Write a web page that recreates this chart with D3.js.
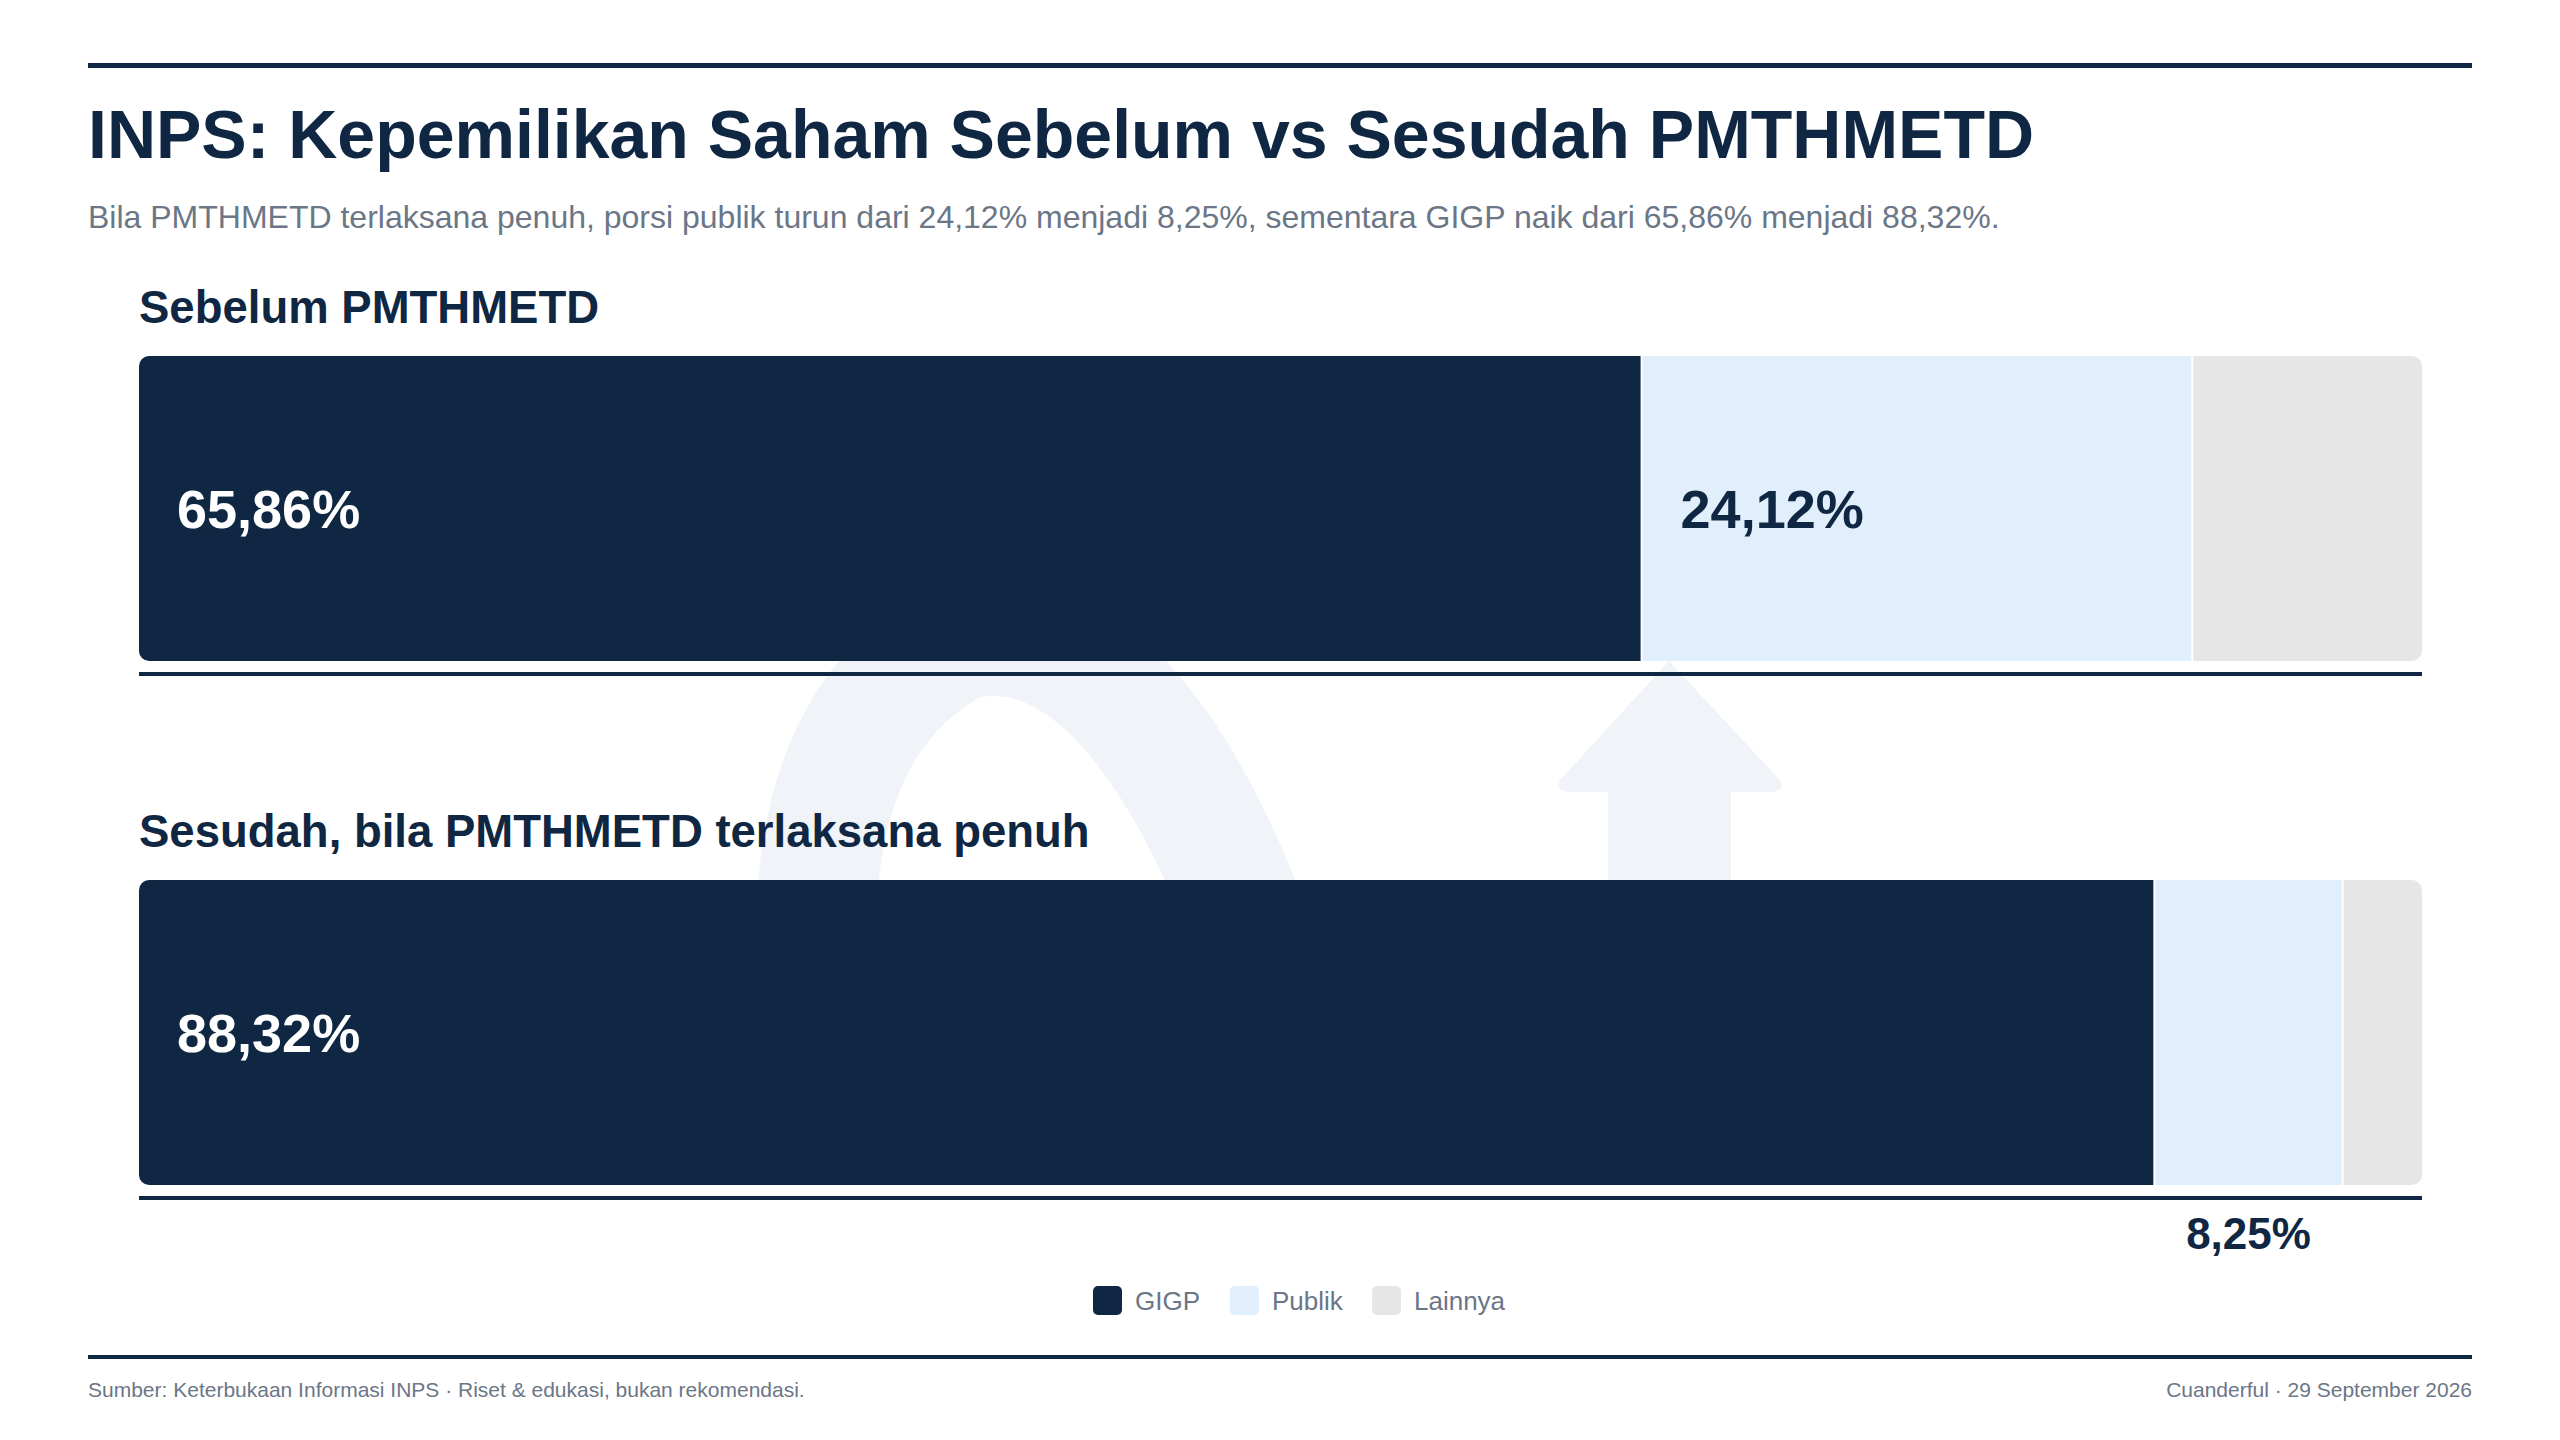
<!DOCTYPE html>
<html><head><meta charset="utf-8">
<script src="https://cdn.jsdelivr.net/npm/d3@7"></script>
<style>body{margin:0;background:#fff}svg{display:block}text{font-family:"Liberation Sans",Arial,sans-serif}</style>
</head><body>
<script>
var categories = ["GIGP", "Publik", "Lainnya"];
var rowLabels = ["Sebelum PMTHMETD", "Sesudah, bila PMTHMETD terlaksana penuh"];
var sebelum = [65.86, 24.12, 10.02];
var sesudah = [88.32, 8.25, 3.43];
var colors = ["#0f2742", "#e1eefc", "#e6e6e6"];

var W = 2560, H = 1440, navy = "#0f2742";
var svg = d3.select("body").append("svg").attr("width", W).attr("height", H);

// watermark
var wm = svg.append("g").attr("fill", "#f0f4f9");
wm.append("path").attr("fill", "none").attr("stroke", "#f0f4f9").attr("stroke-width", 120)
  .attr("d", "M850,1170 C790,940 800,720 960,640 C1120,600 1250,850 1320,1170");
wm.append("path").attr("d", "M1669,661 L1780,780 Q1785,792 1770,792 L1731,792 L1731,1170 L1608,1170 L1608,792 L1570,792 Q1555,792 1560,780 Z");

svg.append("rect").attr("x", 88).attr("y", 63).attr("width", 2384).attr("height", 5).attr("fill", navy);
svg.append("text").attr("x", 88).attr("y", 158).attr("font-size", 68).attr("font-weight", "bold").attr("fill", navy)
  .text("INPS: Kepemilikan Saham Sebelum vs Sesudah PMTHMETD");
svg.append("text").attr("x", 88).attr("y", 228).attr("font-size", 32).attr("fill", "#6b7686")
  .text("Bila PMTHMETD terlaksana penuh, porsi publik turun dari 24,12% menjadi 8,25%, sementara GIGP naik dari 65,86% menjadi 88,32%.");

var x = d3.scaleLinear().domain([0, 100]).range([139, 2422]);
var fmt = function(v){ return d3.format(".2f")(v).replace(".", ",") + "%"; };
var rows = [{label: rowLabels[0], vals: sebelum, y: 356, ly: 323},
            {label: rowLabels[1], vals: sesudah, y: 880, ly: 847}];
var barH = 305;
svg.append("defs").selectAll("clipPath").data(rows).enter().append("clipPath")
  .attr("id", function(d, i){ return "c" + i; })
  .append("rect").attr("x", x(0)).attr("y", function(d){ return d.y; })
  .attr("width", x(100) - x(0)).attr("height", barH).attr("rx", 10);

rows.forEach(function(r, ri){
  svg.append("text").attr("x", 139).attr("y", r.ly).attr("font-size", 45.5).attr("font-weight", "bold").attr("fill", navy).text(r.label);
  var segs = [], acc = 0;
  r.vals.forEach(function(v, i){ segs.push({k: categories[i], v: v, x0: acc, c: colors[i]}); acc += v; });
  var g = svg.append("g").attr("clip-path", "url(#c" + ri + ")");
  g.selectAll("rect").data(segs).enter().append("rect")
    .attr("x", function(d){ return x(d.x0); }).attr("y", r.y)
    .attr("width", function(d){ return x(d.x0 + d.v) - x(d.x0) - (d.k === "Lainnya" ? 0 : 2); })
    .attr("height", barH).attr("fill", function(d){ return d.c; });
  svg.append("rect").attr("x", 139).attr("y", r.y + barH + 11).attr("width", 2283).attr("height", 4).attr("fill", navy);
  segs.slice(0, 2).forEach(function(d){
    var inside = d.v > 15;
    svg.append("text")
      .attr("x", inside ? x(d.x0) + 38 : x(d.x0 + d.v / 2) - 1)
      .attr("y", inside ? r.y + barH / 2 + 19 : r.y + barH + 64)
      .attr("text-anchor", inside ? "start" : "middle")
      .attr("font-size", inside ? 54 : 44).attr("font-weight", "bold")
      .attr("fill", d.k === "GIGP" ? "#fff" : navy).text(fmt(d.v));
  });
});

// legend
var lg = svg.append("g");
var lx = [1093, 1230, 1372];
categories.forEach(function(c, i){
  lg.append("rect").attr("x", lx[i]).attr("y", 1286).attr("width", 29).attr("height", 29).attr("rx", 5).attr("fill", colors[i]);
  lg.append("text").attr("x", lx[i] + 42).attr("y", 1310).attr("font-size", 26).attr("fill", "#6b7686").text(c);
});

svg.append("rect").attr("x", 88).attr("y", 1355).attr("width", 2384).attr("height", 4).attr("fill", navy);
svg.append("text").attr("x", 88).attr("y", 1397).attr("font-size", 21).attr("fill", "#6b7686")
  .text("Sumber: Keterbukaan Informasi INPS · Riset & edukasi, bukan rekomendasi.");
svg.append("text").attr("x", 2472).attr("y", 1397).attr("text-anchor", "end").attr("font-size", 21).attr("fill", "#6b7686")
  .text("Cuanderful · 29 September 2026");
</script>
</body></html>
